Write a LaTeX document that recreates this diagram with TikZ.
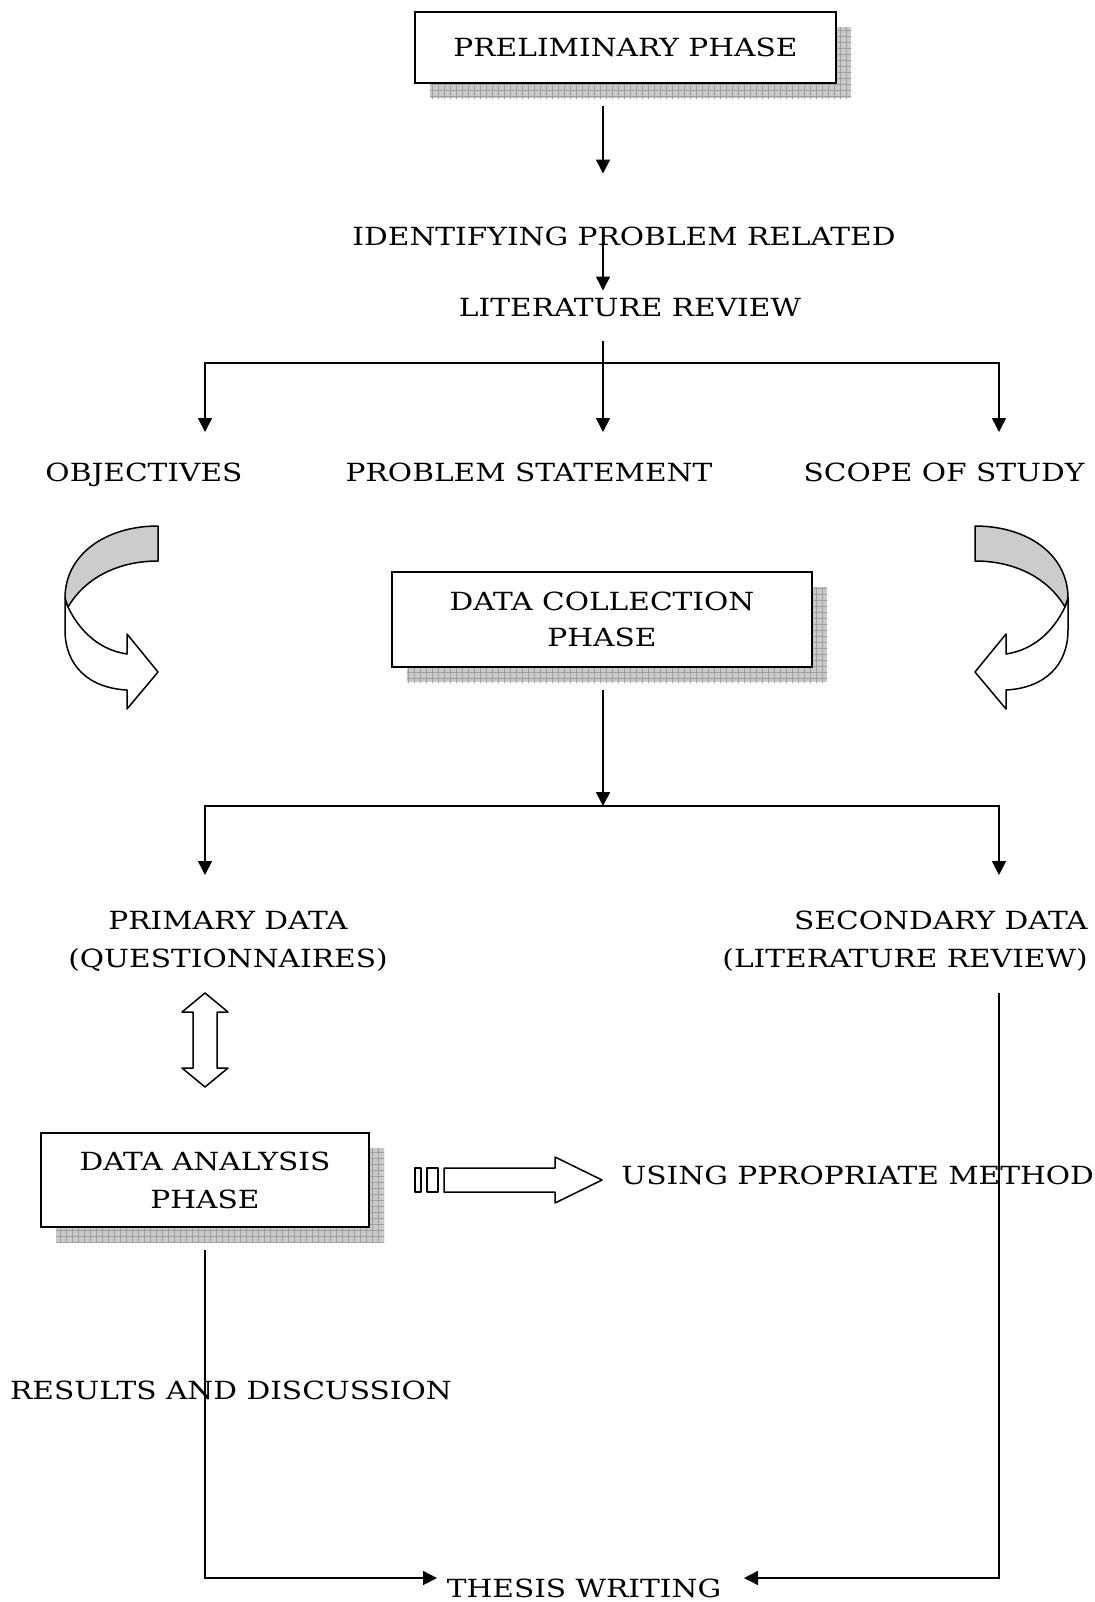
\documentclass[tikz,border=0pt]{standalone}
\usepackage{fontspec}
\setmainfont[FakeStretch=1.185]{DejaVu Serif}
\usetikzlibrary{positioning, arrows.meta, shadows, patterns}

\tikzset{
  >={Triangle[length=7pt,width=7pt]},
  conn/.style={line width=0.75pt},
  txt/.style={inner sep=0pt, font=\fontsize{12.5pt}{17pt}\selectfont},
  capline/.style={text height=9.1pt, text depth=0pt},
  phasebox/.style={draw, line width=1pt, fill=white, align=center, inner sep=0pt,
    general shadow={fill=gray!42, shadow xshift=7.5pt, shadow yshift=-7.5pt},
    general shadow={pattern=grid, pattern color=gray!75, shadow xshift=7.5pt, shadow yshift=-7.5pt}},
  ribbon/.style={line width=0.75pt, line join=round}
}

\begin{document}
\begin{tikzpicture}[x=0.5pt, y=-0.5pt]
\useasboundingbox (0,0) rectangle (1095,1602);

% phase boxes
\node[phasebox, minimum width=210.5pt, minimum height=35.5pt, font=\fontsize{12.5pt}{17pt}\selectfont] (prelim) at (625.5,47.5) {PRELIMINARY PHASE};
\node[phasebox, minimum width=210pt, minimum height=47.5pt, font=\fontsize{12.5pt}{18pt}\selectfont] (collect) at (602,619.5) {DATA COLLECTION\\PHASE};
\node[phasebox, minimum width=164pt, minimum height=47pt, font=\fontsize{12.5pt}{19pt}\selectfont] (analysis) at (205,1180) {DATA ANALYSIS\\PHASE};

% texts
\node[txt, capline] (ident) at (624,236) {IDENTIFYING PROBLEM RELATED};
\node[txt, capline] (litrev) at (630,307) {LITERATURE REVIEW};
\node[txt, capline] (obj) at (144,472) {OBJECTIVES};
\node[txt, capline] (probstat) at (529,472) {PROBLEM STATEMENT};
\node[txt, capline] (scope) at (944,472) {SCOPE OF STUDY};
\node[txt, align=center, font=\fontsize{12.5pt}{19pt}\selectfont] (primary) at (228,941) {PRIMARY DATA\\(QUESTIONNAIRES)};
\node[txt, align=right, font=\fontsize{12.5pt}{19pt}\selectfont, anchor=east] (secondary) at (1088,941) {SECONDARY DATA\\(LITERATURE REVIEW)};
\node[txt, capline, anchor=west] (method) at (621,1175) {USING PPROPRIATE METHOD};
\node[txt, capline] (results) at (231,1390) {RESULTS AND DISCUSSION};
\node[txt, capline] (thesis) at (584,1588) {THESIS WRITING};

% connector points
\coordinate (split1) at (603,363);
\coordinate (split2) at (603,806);
\coordinate (objin) at (205,432);
\coordinate (probin) at (603,432);
\coordinate (scopein) at (999,432);
\coordinate (primin) at (205,875);
\coordinate (secin) at (999,875);
\coordinate (secout) at (999,993);
\coordinate (thw) at (437,1578);
\coordinate (the) at (744,1578);

% connectors
\draw[conn, ->, shorten <=11pt, shorten >=26.5pt] (prelim.south -| split1) -- (ident.north -| split1);
\draw[conn, ->, shorten <=3.5pt, shorten >=3.5pt] (ident.center -| split1) -- (litrev.north -| split1);
\draw[conn, shorten <=12pt] (litrev.south -| split1) -- (split1);
\draw[conn, ->] (split1) -| (objin);
\draw[conn, ->] (split1) -- (probin);
\draw[conn, ->] (split1) -| (scopein);
\draw[conn, ->, shorten <=11pt] (collect.south -| split2) -- (split2);
\draw[conn, ->] (split2) -| (primin);
\draw[conn, ->] (split2) -| (secin);
\draw[conn, ->, shorten <=11pt] (analysis.south) |- (thw);
\draw[conn, ->] (secout) |- (the);

% curved arrows
\foreach \s/\m in {1/0, -1/1133} {
\begin{scope}[shift={(\m,0)}, xscale=\s]
\filldraw[ribbon, fill=white] (68,607) .. controls (80,632) and (100,650) .. (127,654) -- (127,634) -- (158,672)
  -- (127,709) -- (127,690) .. controls (88,688) and (65,665) .. (65,630) -- (65,598) -- cycle;
\filldraw[ribbon, fill=gray!40] (158,526) .. controls (105,526) and (65,555) .. (65,598) -- (68,607)
  .. controls (85,578) and (118,561) .. (158,561) -- cycle;
\end{scope}
}

% double arrow
\draw[ribbon] (205,993) -- (228,1012) -- (217,1012) -- (217,1068) -- (228,1068) -- (205,1087) -- (182,1068)
  -- (193,1068) -- (193,1012) -- (182,1012) -- cycle;

% block arrow
\draw[ribbon] (415,1168) rectangle (421,1192);
\draw[ribbon] (427,1168) rectangle (438,1192);
\draw[ribbon] (444,1168) -- (555,1168) -- (555,1157) -- (602,1180) -- (555,1203) -- (555,1192) -- (444,1192) -- cycle;
\end{tikzpicture}
\end{document}
